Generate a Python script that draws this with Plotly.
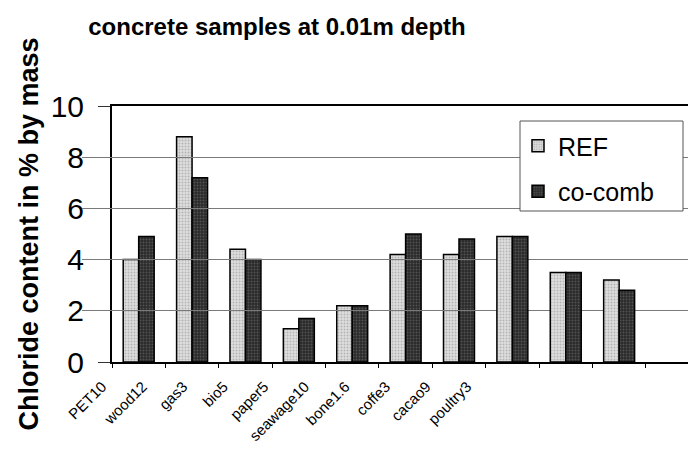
import plotly.graph_objects as go

# Chloride content (% by mass) at 0.01 m depth
samples = ["PET10", "wood12", "gas3", "bio5", "paper5", "seawage10",
           "bone1.6", "coffe3", "cacao9", "poultry3"]
ref_values = [4.0, 8.8, 4.4, 1.3, 2.2, 4.2, 4.2, 4.9, 3.5, 3.2]
cocomb_values = [4.9, 7.2, 4.0, 1.7, 2.2, 5.0, 4.8, 4.9, 3.5, 2.8]
y_ticks = [0, 2, 4, 6, 8, 10]

FONT = "Liberation Sans, Arial, sans-serif"

fig = go.Figure()
fig.add_trace(go.Bar(
    x=samples, y=ref_values, name="REF", legendgroup="ref",
    marker=dict(color="#d4d4d4", line=dict(color="black", width=1.5),
                pattern=dict(shape=".", fgcolor="#8a8a8a", bgcolor="#dedede",
                             size=3, solidity=0.35)),
))
fig.add_trace(go.Bar(
    x=samples, y=cocomb_values, name="co-comb", legendgroup="cocomb",
    marker=dict(color="#3c3c3c", line=dict(color="black", width=1.5),
                pattern=dict(shape=".", fgcolor="#7a7a7a", bgcolor="#2a2a2a",
                             size=3, solidity=0.35)),
))
# empty traces that carry the category labels and the value labels
fig.add_trace(go.Bar(x=samples, y=[None] * len(samples), xaxis="x2",
                     showlegend=False, hoverinfo="skip"))
fig.add_trace(go.Bar(x=samples, y=[None] * len(samples), yaxis="y2",
                     showlegend=False, hoverinfo="skip"))

W, H = 688, 455
ml, mt, mb = 70, 106, 93
pw = W - ml
ph = H - mt - mb
def px(x):
    return (x - ml) / pw
def py(y):
    return (H - mb - y) / ph

fig.update_layout(
    width=W, height=H,
    margin=dict(l=ml, r=0, t=mt, b=mb),
    paper_bgcolor="white", plot_bgcolor="rgba(0,0,0,0)",
    barmode="group", bargap=0.42, bargroupgap=0,
    font=dict(family=FONT, color="black"),
    title=dict(text="<b>concrete samples at 0.01m depth</b>",
               font=dict(size=24, family=FONT, color="black"),
               x=277 / W, xanchor="center", y=1 - 27 / H, yanchor="middle"),
    xaxis=dict(domain=[px(112), 1], range=[-0.5, 10.29],
               type="category", tickson="boundaries", ticks="outside",
               ticklen=4, tickcolor="black", showticklabels=False,
               showline=True, linecolor="black", linewidth=1.5, mirror=True,
               showgrid=False),
    xaxis2=dict(domain=[px(81.7), px(487.3)], range=[-0.5, 9.5],
                type="category", anchor="y",
                showline=False, showgrid=False, ticks="",
                tickangle=-45, tickfont=dict(size=15, family=FONT),
                ticklabelstandoff=12),
    yaxis=dict(range=[0, 10], tickvals=y_ticks, ticks="outside", ticklen=12,
               tickcolor="#333", showticklabels=False,
               showline=True, linecolor="black", linewidth=1.5,
               showgrid=True, gridcolor="#7a7a7a", gridwidth=1,
               zeroline=False),
    yaxis2=dict(range=[0, 10], tickvals=y_ticks, overlaying="y",
                anchor="free", position=px(84), side="left",
                ticks="", showline=False, showgrid=False, zeroline=False,
                tickfont=dict(size=30, family=FONT),
                title=dict(text="<b>Chloride content in % by mass</b>",
                           font=dict(size=27, family=FONT), standoff=3)),
    legend=dict(x=px(518), xanchor="left", y=py(123), yanchor="top",
                bgcolor="rgba(0,0,0,0)", borderwidth=0,
                font=dict(size=25, family=FONT), tracegroupgap=10,
                itemwidth=30),
    shapes=[dict(type="rect", xref="paper", yref="paper",
                 x0=px(520), x1=px(683), y0=py(211), y1=py(121),
                 fillcolor="white", line=dict(color="#555", width=1),
                 layer="above")],
)

fig.write_html("out.html")
